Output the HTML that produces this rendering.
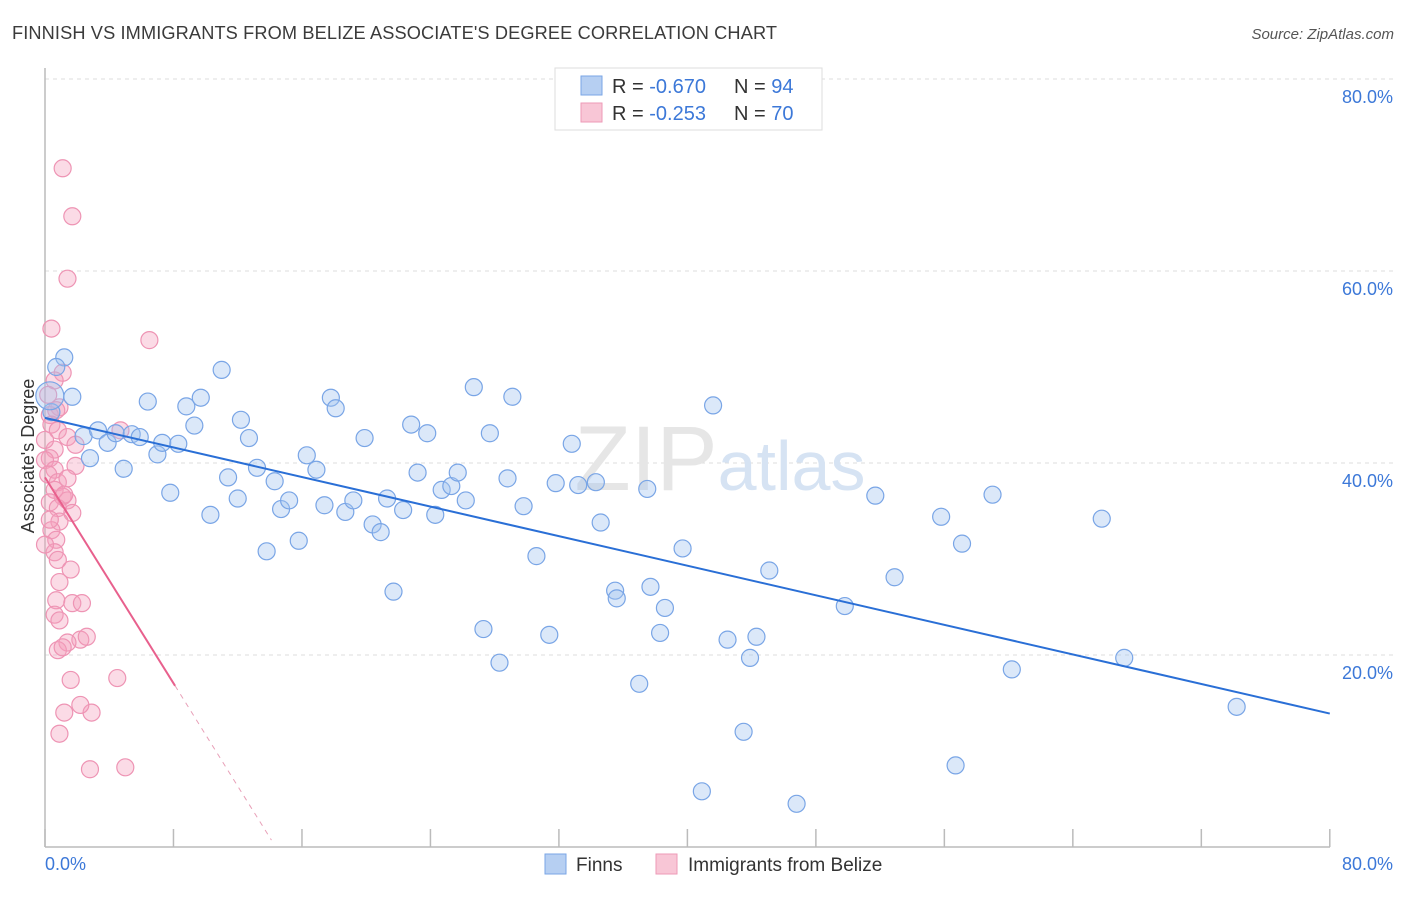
<!DOCTYPE html>
<html><head><meta charset="utf-8">
<style>
body{margin:0;background:#fff;font-family:"Liberation Sans",sans-serif;}
svg text{font-family:"Liberation Sans",sans-serif;}
</style></head><body>
<svg id="chart" width="1406" height="892" viewBox="0 0 1406 892" xmlns="http://www.w3.org/2000/svg">
<text x="12" y="39" font-size="18.2" fill="#3b3b3b" textLength="765">FINNISH VS IMMIGRANTS FROM BELIZE ASSOCIATE'S DEGREE CORRELATION CHART</text>
<text x="1394" y="39" font-size="15" fill="#555" text-anchor="end" font-style="italic">Source: ZipAtlas.com</text>
<g id="grid"></g>
<text x="720" y="490" font-size="92" text-anchor="middle" fill="#e6e6e6" font-family="Liberation Serif,serif">ZIP<tspan fill="#d6e3f3" font-family="Liberation Sans,sans-serif" font-size="70">atlas</tspan></text>
<line x1="45" y1="68" x2="45" y2="847" stroke="#bbb" stroke-width="1.5"/>
<line x1="45" y1="847" x2="1330" y2="847" stroke="#bbb" stroke-width="1.5"/>
<g id="ticks"></g>
<g id="pts"></g>
<g id="trends"></g>
<text transform="translate(34,456) rotate(-90)" font-size="18" fill="#333" text-anchor="middle">Associate's Degree</text>
<text x="45" y="870" font-size="18" fill="#3c78d8">0.0%</text>
<text x="1393" y="870" font-size="18" fill="#3c78d8" text-anchor="end">80.0%</text>
<g>
<rect x="555" y="68" width="267" height="62" fill="#fff" stroke="#ddd"/>
<rect x="581" y="76" width="21" height="19" fill="#b6cff2" stroke="#7aa6e6"/>
<rect x="581" y="103" width="21" height="19" fill="#f8c6d6" stroke="#ee9ab7"/>
<text x="612" y="93" font-size="20" fill="#333">R = <tspan fill="#3c78d8">-0.670</tspan></text>
<text x="734" y="93" font-size="20" fill="#333">N = <tspan fill="#3c78d8">94</tspan></text>
<text x="612" y="120" font-size="20" fill="#333">R = <tspan fill="#3c78d8">-0.253</tspan></text>
<text x="734" y="120" font-size="20" fill="#333">N = <tspan fill="#3c78d8">70</tspan></text>
</g>
<g>
<rect x="545" y="854" width="21" height="20" fill="#b6cff2" stroke="#7aa6e6"/>
<text x="576" y="871" font-size="19" fill="#333">Finns</text>
<rect x="656" y="854" width="21" height="20" fill="#f8c6d6" stroke="#ee9ab7"/>
<text x="688" y="871" font-size="19" fill="#333">Immigrants from Belize</text>
</g>
</svg>
<script>
const yTicks=[20,40,60,80];
const yTickLabels=["20.0%","40.0%","60.0%","80.0%"];
const xTicks=[0,8,16,24,32,40,48,56,64,72,80];
const finnsX=[1.2,0.7,1.7,0.4,2.4,2.8,3.3,3.9,4.4,4.9,5.4,5.9,6.4,7.0,7.3,7.8,8.3,8.8,9.3,9.7,10.3,11.0,11.4,12.0,12.2,12.7,13.2,13.8,14.3,14.7,15.2,15.8,16.3,16.9,17.4,17.8,18.1,18.7,19.2,19.9,20.4,20.9,21.3,21.7,22.3,22.8,23.2,23.8,24.3,24.7,25.3,25.7,26.2,26.7,27.3,27.7,28.3,28.8,29.1,29.8,30.6,31.4,31.8,32.8,33.2,34.3,34.6,35.5,35.6,37.0,37.5,37.7,38.3,38.6,39.7,40.9,41.6,42.5,43.5,43.9,44.3,45.1,46.8,49.8,51.7,52.9,55.8,56.7,57.1,59.0,60.2,65.8,67.2,74.2];
const finnsY=[51.0,50.0,46.9,45.3,42.8,40.5,43.4,42.1,43.1,39.4,43.0,42.7,46.4,40.9,42.1,36.9,42.0,45.9,43.9,46.8,34.6,49.7,38.5,36.3,44.5,42.6,39.5,30.8,38.1,35.2,36.1,31.9,40.8,39.3,35.6,46.8,45.7,34.9,36.1,42.6,33.6,32.8,36.3,26.6,35.1,44.0,39.0,43.1,34.6,37.2,37.6,39.0,36.1,47.9,22.7,43.1,19.2,38.4,46.9,35.5,30.3,22.1,37.9,42.0,37.7,38.0,33.8,26.7,25.9,17.0,37.3,27.1,22.3,24.9,31.1,5.8,46.0,21.6,12.0,19.7,21.9,28.8,4.5,25.1,36.6,28.1,34.4,8.5,31.6,36.7,18.5,34.2,19.7,14.6];
const belizeX=[1.1,1.7,1.4,0.4,6.5,1.1,0.6,0.9,0.3,0.7,0.4,0.8,1.4,1.9,0.6,0.3,0.0,1.9,0.6,0.2,0.8,1.4,0.6,1.1,1.4,0.3,0.8,1.7,0.9,0.4,0.7,0.6,0.8,1.6,0.9,0.7,1.7,2.3,0.6,0.9,2.2,2.6,1.4,0.8,1.1,1.6,4.5,1.2,2.9,2.2,0.9,2.8,5.0,4.7,0.0,0.2,0.3,0.0,1.2];
const belizeY=[70.7,65.7,59.2,54.0,52.8,49.4,48.6,45.8,45.0,45.5,44.0,43.4,42.7,41.9,41.4,40.5,40.3,39.7,39.3,38.8,38.0,38.4,37.2,36.5,36.1,35.9,35.3,34.8,33.9,33.0,32.0,30.7,29.9,28.9,27.6,25.7,25.4,25.4,24.2,23.6,21.6,21.9,21.3,20.5,20.8,17.4,17.6,14.0,14.0,14.8,11.8,8.1,8.3,43.4,42.4,47.1,34.1,31.5,36.7];
const finnsTrend=[44.7,-0.385];   // intercept, slope
const belizeTrend=[38.5,-2.68];
const belizeSolidEnd=8.1, belizeDashEnd=14.1;
const NS="http://www.w3.org/2000/svg";
function sx(v){return 45+v*16.06;}
function sy(v){return 847-v*9.6;}
function mk(tag,attrs,parent){const e=document.createElementNS(NS,tag);for(const k in attrs)e.setAttribute(k,attrs[k]);parent.appendChild(e);return e;}
const grid=document.getElementById('grid');
yTicks.forEach((t,i)=>{
  const l=mk('line',{x1:45,x2:1393,y1:sy(t),y2:sy(t),stroke:'#ddd','stroke-dasharray':'4,4'},grid);
  
  
  const tx=mk('text',{x:1393,y:sy(t)+24,'font-size':18,fill:'#3c78d8','text-anchor':'end'},grid);
  tx.textContent=yTickLabels[i];
  
  
});
const tk=document.getElementById('ticks');
xTicks.forEach(t=>{
  const l=mk('line',{x1:sx(t),x2:sx(t),y1:829,y2:847,stroke:'#bbb','stroke-width':1.5},tk);
  
  
});
const pts=document.getElementById('pts');
belizeX.forEach((x,i)=>{
  const c=mk('circle',{cx:sx(x),cy:sy(belizeY[i]),r:8.5,fill:'rgba(244,160,190,0.38)',stroke:'#ee94b4','stroke-width':1.2},pts);
  
  
});
finnsX.forEach((x,i)=>{
  const c=mk('circle',{cx:sx(x),cy:sy(finnsY[i]),r:8.5,fill:'rgba(160,195,240,0.38)',stroke:'#79a5e6','stroke-width':1.2},pts);
  
  
});
const big=mk('circle',{cx:sx(0.3),cy:sy(47.0),r:14,fill:'rgba(160,195,240,0.38)',stroke:'#79a5e6','stroke-width':1.2},pts);


const tr=document.getElementById('trends');
const f=mk('line',{x1:sx(0),y1:sy(finnsTrend[0]),x2:sx(80),y2:sy(finnsTrend[0]+80*finnsTrend[1]),stroke:'#2a6fd6','stroke-width':2},tr);


const b=mk('line',{x1:sx(0),y1:sy(belizeTrend[0]),x2:sx(belizeSolidEnd),y2:sy(belizeTrend[0]+belizeSolidEnd*belizeTrend[1]),stroke:'#e8608d','stroke-width':2},tr);


const bd=mk('line',{x1:sx(belizeSolidEnd),y1:sy(belizeTrend[0]+belizeSolidEnd*belizeTrend[1]),x2:sx(belizeDashEnd),y2:sy(belizeTrend[0]+belizeDashEnd*belizeTrend[1]),stroke:'#e8a0b8','stroke-width':1,'stroke-dasharray':'5,5'},tr);


</script>
</body></html>
